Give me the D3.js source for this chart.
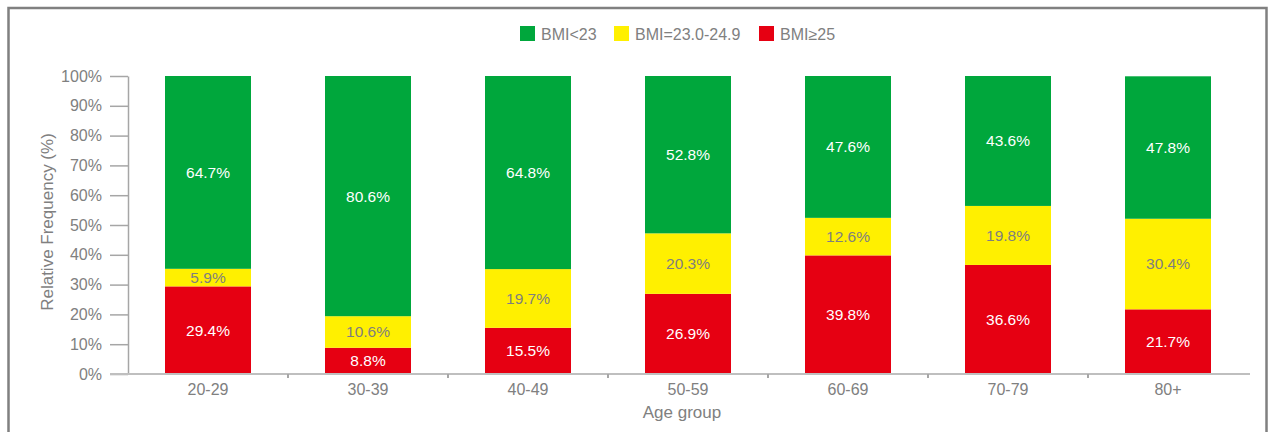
<!DOCTYPE html>
<html>
<head>
<meta charset="utf-8">
<script src="https://cdn.jsdelivr.net/npm/d3@7"></script>
<style>
  html, body { margin: 0; padding: 0; background: #fff; }
  svg { display: block; font-family: "Liberation Sans", Arial, sans-serif; }
</style>
</head>
<body>
<svg id="chart" width="1269" height="432"></svg>
<script>
// ---- data ----
const categories = ["20-29", "30-39", "40-49", "50-59", "60-69", "70-79", "80+"];
const seriesNames = ["BMI≥25", "BMI=23.0-24.9", "BMI<23"];
const bmiOver25 = [29.4, 8.8, 15.5, 26.9, 39.8, 36.6, 21.7];
const bmi23to25 = [5.9, 10.6, 19.7, 20.3, 12.6, 19.8, 30.4];
const bmiUnder23 = [64.7, 80.6, 64.8, 52.8, 47.6, 43.6, 47.8];
const yTicks = [0, 10, 20, 30, 40, 50, 60, 70, 80, 90, 100];
const legendOrder = ["BMI<23", "BMI=23.0-24.9", "BMI≥25"];

// ---- styles ----
const colors = { "BMI≥25": "#e60012", "BMI=23.0-24.9": "#fff000", "BMI<23": "#00a73c" };
const labelColors = { "BMI≥25": "#ffffff", "BMI=23.0-24.9": "#7f7f7f", "BMI<23": "#ffffff" };
const textGray = "#808080";

const svg = d3.select("#chart");

// frame
svg.append("rect").attr("x", 8.5).attr("y", 8).attr("width", 1258).attr("height", 500)
  .attr("fill", "none").attr("stroke", "#808080").attr("stroke-width", 2.5);

const plot = { left: 128, right: 1248, top: 76, bottom: 374 };

const x = d3.scaleBand().domain(categories).range([plot.left, plot.right])
  .paddingInner(0.4625).paddingOuter(0.23125);
const y = d3.scaleLinear().domain([0, 100]).range([plot.bottom, plot.top]);

const rows = categories.map((c, i) => ({
  cat: c,
  "BMI≥25": bmiOver25[i],
  "BMI=23.0-24.9": bmi23to25[i],
  "BMI<23": bmiUnder23[i]
}));
const stacked = d3.stack().keys(seriesNames)(rows);

// bars
const layers = svg.append("g").selectAll("g").data(stacked).join("g")
  .attr("fill", d => colors[d.key]);
layers.selectAll("rect").data(d => d).join("rect")
  .attr("x", d => x(d.data.cat))
  .attr("width", x.bandwidth())
  .attr("y", d => y(d[1]))
  .attr("height", d => y(d[0]) - y(d[1]));

// labels
const labelG = svg.append("g").attr("font-size", "15.5px").attr("text-anchor", "middle");
stacked.forEach(layer => {
  labelG.selectAll(null).data(layer).join("text")
    .attr("x", d => x(d.data.cat) + x.bandwidth() / 2)
    .attr("y", d => (y(d[0]) + y(d[1])) / 2)
    .attr("dy", "0.35em")
    .attr("fill", labelColors[layer.key])
    .text(d => d.data[layer.key].toFixed(1) + "%");
});

// y axis
const yAxis = svg.append("g").attr("transform", `translate(${plot.left},0)`)
  .call(d3.axisLeft(y).tickValues(yTicks).tickSize(18).tickSizeOuter(0).tickPadding(8)
    .tickFormat(d => d + "%"));
yAxis.select(".domain").attr("stroke", "#a6a6a6").attr("stroke-width", 1.5);
yAxis.selectAll(".tick line").attr("stroke", "#a6a6a6").attr("stroke-width", 1.5);
yAxis.selectAll(".tick text").attr("fill", textGray).attr("font-size", "16px")
  .attr("font-family", "Liberation Sans, Arial, sans-serif");

// x axis
const xAxis = svg.append("g").attr("transform", `translate(0,${plot.bottom})`)
  .call(d3.axisBottom(x).tickSize(0).tickPadding(10));
xAxis.select(".domain").remove();
xAxis.selectAll(".tick text").attr("fill", textGray).attr("font-size", "16px")
  .attr("font-family", "Liberation Sans, Arial, sans-serif");
xAxis.append("line").attr("x1", plot.left - 18).attr("x2", plot.right + 2)
  .attr("y1", 0).attr("y2", 0).attr("stroke", "#bfbfbf").attr("stroke-width", 2);
const boundaries = d3.range(1, categories.length).map(i => plot.left + i * x.step());
xAxis.selectAll(".sep").data(boundaries).join("line").attr("class", "sep")
  .attr("x1", d => d).attr("x2", d => d).attr("y1", 0).attr("y2", 4)
  .attr("stroke", "#a6a6a6").attr("stroke-width", 2);

// axis titles
svg.append("text").attr("x", 682).attr("y", 412).attr("dy", "0.35em")
  .attr("text-anchor", "middle").attr("fill", textGray).attr("font-size", "17px")
  .text("Age group");
svg.append("text").attr("transform", `translate(47,${(plot.top + plot.bottom) / 2 - 3}) rotate(-90)`)
  .attr("dy", "0.35em").attr("text-anchor", "middle").attr("fill", textGray)
  .attr("font-size", "17px").text("Relative Frequency (%)");

// legend
const legendX = [520, 614, 759];
const legend = svg.append("g");
legendOrder.forEach((k, i) => {
  legend.append("rect").attr("x", legendX[i]).attr("y", 26).attr("width", 15).attr("height", 15)
    .attr("fill", colors[k]);
  legend.append("text").attr("x", legendX[i] + 21).attr("y", 34).attr("dy", "0.35em")
    .attr("fill", textGray).attr("font-size", "16px").text(k);
});
</script>
</body>
</html>
